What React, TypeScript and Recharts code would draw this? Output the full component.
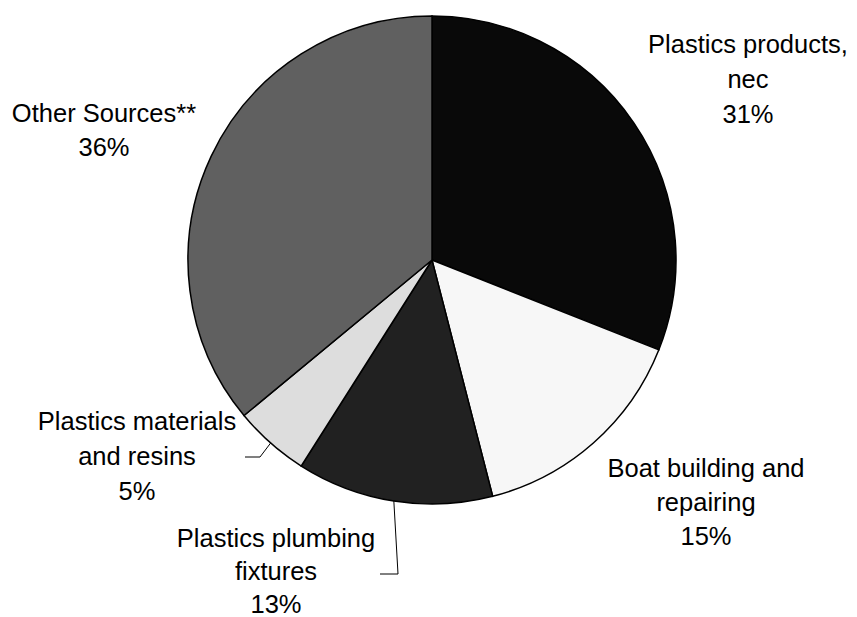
import React from "react";
import { PieChart, Pie, Cell } from "recharts";

const SOURCES = [
  "Plastics products, nec",
  "Boat building and repairing",
  "Plastics plumbing fixtures",
  "Plastics materials and resins",
  "Other Sources**",
];
const SHARES = [31, 15, 13, 5, 36];
const LABEL_LINES = [
  ["Plastics products,", "nec"],
  ["Boat building and", "repairing"],
  ["Plastics plumbing", "fixtures"],
  ["Plastics materials", "and resins"],
  ["Other Sources**"],
];

const FILLS = ["#090909", "#f7f7f7", "#212121", "#dddddd", "#606060"];

// label anchor (centre x, first baseline y, line height) and optional leader elbows
const LABEL_LAYOUT: { x: number; y: number; lh: number; leader?: [number, number][] }[] = [
  { x: 748, y: 53, lh: 35 },
  { x: 706, y: 477, lh: 34 },
  { x: 276, y: 547, lh: 33 },
  { x: 137, y: 430, lh: 35 },
  { x: 104, y: 122, lh: 34 },
];
LABEL_LAYOUT[2].leader = [[398, 574], [380, 574]];
LABEL_LAYOUT[3].leader = [[260, 457], [245, 457]];

const data = SOURCES.map((name, i) => ({ name, value: SHARES[i] }));

const RADIAN = Math.PI / 180;

function renderLabel(props: any) {
  const { cx, cy, midAngle, outerRadius, index } = props;
  const layout = LABEL_LAYOUT[index];
  const lines = [...LABEL_LINES[index], `${SHARES[index]}%`];
  let leader = null;
  if (layout.leader) {
    const sx = cx + outerRadius * Math.cos(-midAngle * RADIAN);
    const sy = cy + outerRadius * Math.sin(-midAngle * RADIAN);
    const pts = [[sx, sy], ...layout.leader].map((p) => p.join(",")).join(" ");
    leader = <polyline points={pts} fill="none" stroke="#000" strokeWidth={1} />;
  }
  return (
    <g key={`lbl-${index}`}>
      {leader}
      <text
        x={layout.x}
        y={layout.y}
        textAnchor="middle"
        fill="#000"
        fontSize={25.5}
        fontFamily="'Liberation Sans', Arial, sans-serif"
      >
        {lines.map((l, i) => (
          <tspan key={i} x={layout.x} dy={i === 0 ? 0 : layout.lh}>
            {l}
          </tspan>
        ))}
      </text>
    </g>
  );
}

export default function App() {
  return (
    <div style={{ position: "absolute", left: 0, top: 0, width: 857, height: 617, background: "#fff" }}>
      <PieChart width={857} height={617} margin={{ top: 0, right: 0, bottom: 0, left: 0 }}>
        <Pie
          data={data}
          dataKey="value"
          nameKey="name"
          cx={432}
          cy={260}
          outerRadius={244}
          startAngle={90}
          endAngle={-270}
          stroke="#000"
          strokeWidth={1.5}
          label={renderLabel}
          labelLine={false}
          isAnimationActive={false}
        >
          {data.map((d, i) => (
            <Cell key={d.name} fill={FILLS[i]} />
          ))}
        </Pie>
      </PieChart>
    </div>
  );
}
